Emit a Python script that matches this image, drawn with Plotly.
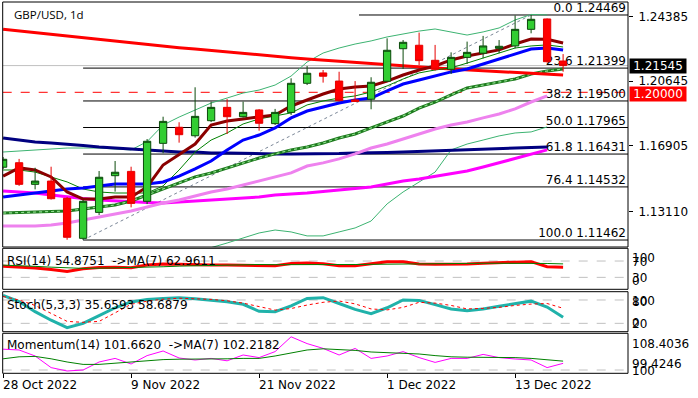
import datetime as dt
import plotly.graph_objects as go

# ---------------- data ----------------
DATES = ["2022-10-28", "2022-10-31", "2022-11-01", "2022-11-02", "2022-11-03", "2022-11-04",
         "2022-11-07", "2022-11-08", "2022-11-09", "2022-11-10", "2022-11-11",
         "2022-11-14", "2022-11-15", "2022-11-16", "2022-11-17", "2022-11-18",
         "2022-11-21", "2022-11-22", "2022-11-23", "2022-11-24", "2022-11-25",
         "2022-11-28", "2022-11-29", "2022-11-30", "2022-12-01", "2022-12-02",
         "2022-12-05", "2022-12-06", "2022-12-07", "2022-12-08", "2022-12-09",
         "2022-12-12", "2022-12-13", "2022-12-14", "2022-12-15", "2022-12-16"]

OPEN = [1.1567, 1.1593, 1.1468, 1.1487, 1.1387, 1.1156, 1.1306, 1.1518, 1.1543, 1.1370,
        1.1705, 1.1798, 1.1749, 1.1836, 1.1913, 1.1859, 1.1898, 1.1819, 1.1884, 1.2052,
        1.2112, 1.2065, 1.1956, 1.1960, 1.2064, 1.2252, 1.2272, 1.2185, 1.2133, 1.2202,
        1.2226, 1.2254, 1.2268, 1.2364, 1.2424, 1.2181]
HIGH = [1.1626, 1.1615, 1.1564, 1.1570, 1.1395, 1.1378, 1.1545, 1.1603, 1.1570, 1.1730,
        1.1859, 1.1827, 1.2029, 1.1946, 1.1961, 1.1946, 1.1903, 1.1904, 1.2081, 1.2152,
        1.2129, 1.2119, 1.2065, 1.2087, 1.2312, 1.2302, 1.2345, 1.2274, 1.2231, 1.2293,
        1.2326, 1.2302, 1.2444, 1.24469, 1.2427, 1.2221]
LOW = [1.1557, 1.1459, 1.1439, 1.1380, 1.1148, 1.11462, 1.1291, 1.1426, 1.1335, 1.1354,
       1.1648, 1.1709, 1.1738, 1.1828, 1.1759, 1.1854, 1.1778, 1.1811, 1.1869, 1.2042,
       1.2056, 1.1947, 1.1944, 1.1902, 1.2060, 1.2135, 1.2158, 1.2125, 1.2106, 1.2164,
       1.2197, 1.2226, 1.2254, 1.2341, 1.2172, 1.2119]
CLOSE = [1.1613, 1.1468, 1.1487, 1.1385, 1.1162, 1.1370, 1.1509, 1.1538, 1.1358, 1.1717,
         1.1832, 1.1755, 1.1861, 1.1913, 1.1859, 1.1884, 1.1821, 1.1884, 1.2052, 1.2110,
         1.2093, 1.1952, 1.1947, 1.2058, 1.2243, 1.2289, 1.2183, 1.2133, 1.2202, 1.2231,
         1.2268, 1.2266, 1.2364, 1.2422, 1.2177, 1.21545]

MA_RED = [1.2364, 1.2354, 1.2344, 1.2335, 1.2325, 1.2315, 1.2305, 1.2296, 1.2286, 1.2276,
          1.2266, 1.2258, 1.2250, 1.2241, 1.2233, 1.2225, 1.2216, 1.2208, 1.2200, 1.2192,
          1.2185, 1.2178, 1.2171, 1.2164, 1.2157, 1.2150, 1.2145, 1.2140, 1.2135, 1.2130,
          1.2125, 1.2120, 1.2115, 1.2110, 1.2105, 1.2100]
MA_MAROON = [1.1516, 1.1563, 1.1551, 1.1511, 1.1424, 1.1383, 1.1383, 1.1395, 1.1395, 1.1453,
             1.1580, 1.1638, 1.1701, 1.1811, 1.1834, 1.1846, 1.1857, 1.1869, 1.1921, 1.1956,
             1.1990, 1.2019, 1.2031, 1.2037, 1.2065, 1.2100, 1.2129, 1.2152, 1.2187, 1.2210,
             1.2227, 1.2245, 1.2279, 1.2308, 1.2306, 1.2285]
MA_BLUE = [1.1395, 1.1407, 1.1418, 1.1430, 1.1441, 1.1447, 1.1459, 1.1470, 1.1470, 1.1470,
           1.1482, 1.1516, 1.1557, 1.1603, 1.1667, 1.1724, 1.1753, 1.1794, 1.1852, 1.1892,
           1.1915, 1.1938, 1.1956, 1.1967, 1.2008, 1.2048, 1.2071, 1.2094, 1.2118, 1.2135,
           1.2164, 1.2193, 1.2222, 1.2250, 1.2256, 1.2245]
MA_GREEN_THIN = [1.1551, 1.1551, 1.1539, 1.1511, 1.1482, 1.1441, 1.1424, 1.1418, 1.1418, 1.1418,
                 1.1459, 1.1551, 1.1655, 1.1724, 1.1765, 1.1817, 1.1846, 1.1863, 1.1881, 1.1927,
                 1.1950, 1.1967, 1.1979, 1.2002, 1.2037, 1.2077, 1.2112, 1.2129, 1.2141, 1.2169,
                 1.2198, 1.2227, 1.2256, 1.2268, 1.2274, 1.2262]
MA_GREEN_DOT = [1.1302, 1.1305, 1.1308, 1.1311, 1.1314, 1.1326, 1.1337, 1.1349, 1.1372, 1.1407,
                1.1441, 1.1476, 1.1511, 1.1534, 1.1563, 1.1592, 1.1620, 1.1644, 1.1667, 1.1684,
                1.1707, 1.1736, 1.1759, 1.1794, 1.1828, 1.1863, 1.1909, 1.1944, 1.1985, 1.2025,
                1.2042, 1.2060, 1.2077, 1.2106, 1.2123, 1.2135]
MA_VIOLET = [1.1227, 1.1227, 1.1227, 1.1233, 1.1245, 1.1262, 1.1279, 1.1297, 1.1314, 1.1337,
             1.1360, 1.1378, 1.1401, 1.1424, 1.1441, 1.1464, 1.1487, 1.1511, 1.1534, 1.1574,
             1.1592, 1.1615, 1.1644, 1.1678, 1.1701, 1.1730, 1.1759, 1.1788, 1.1811, 1.1828,
             1.1852, 1.1875, 1.1904, 1.1944, 1.1979, None]
MA_MAGENTA = [1.1430, 1.1424, 1.1418, 1.1407, 1.1395, 1.1386, 1.1378, 1.1372, 1.1366, 1.1363,
              1.1360, 1.1366, 1.1369, 1.1378, 1.1383, 1.1389, 1.1395, 1.1407, 1.1412, 1.1418,
              1.1427, 1.1435, 1.1444, 1.1453, 1.1470, 1.1487, 1.1499, 1.1513, 1.1528, 1.1545,
              1.1568, 1.1592, 1.1620, 1.1644, 1.1667, None]
MA_NAVY = [1.1736, 1.1724, 1.1713, 1.1707, 1.1701, 1.1693, 1.1684, 1.1678, 1.1672, 1.1667,
           1.1661, 1.1655, 1.1655, 1.1649, 1.1649, 1.1646, 1.1644, 1.1644, 1.1644, 1.1644,
           1.1644, 1.1646, 1.1649, 1.1649, 1.1652, 1.1655, 1.1658, 1.1661, 1.1664, 1.1667,
           1.1669, 1.1672, 1.1675, 1.1678, 1.1684, None]
BB_UPPER = [1.1655, 1.1661, 1.1667, 1.1672, 1.1678, 1.1678, 1.1678, 1.1672, 1.1667, 1.1715,
            1.1811, 1.1857, 1.1898, 1.1938, 1.1967, 1.1996, 1.2013, 1.2042, 1.2094, 1.2175,
            1.2227, 1.2256, 1.2279, 1.2297, 1.2320, 1.2337, 1.2354, 1.2366, 1.2349, 1.2331,
            1.2349, 1.2372, 1.2418, 1.2450, 1.2447, None]
BB_LOWER = [1.1050, 1.1045, 1.1040, 1.1035, 1.1030, 1.1025, 1.1040, 1.1060, 1.1100, 1.1085,
            1.1080, 1.1085, 1.1095, 1.1102, 1.1129, 1.1158, 1.1187, 1.1204, 1.1193, 1.1170,
            1.1170, 1.1193, 1.1216, 1.1256, 1.1355, 1.1424, 1.1482, 1.1539, 1.1667, 1.1701,
            1.1724, 1.1748, 1.1765, 1.1771, 1.1800, None]

RSI = [57.5, 56, 53, 49, 44.5, 51, 54, 55, 53.5, 60,
       63, 62, 62, 60.5, 60, 59, 58.5, 58.6, 64, 65,
       63.5, 58.6, 58.6, 63, 68, 68, 62.5, 62, 62, 63,
       64.5, 65.5, 67.5, 68.5, 56, 54.8751]
RSI_MA = [60, 59, 57, 55, 53, 52, 52.5, 53, 53.5, 54.5,
          56, 57.5, 58.5, 60, 61, 61.5, 61.5, 61, 61.5, 62,
          62, 61.5, 61.5, 62, 63, 63.5, 63.5, 64, 64.5, 64.5,
          64.5, 64.5, 64.5, 65, 64, 62.9611]
STOCH_K = [92, 76, 50, 28, 9, 20, 40, 60, 75, 81,
           84, 86, 83, 79, 75.6, 69, 51, 50, 65, 84,
           86, 71, 56, 45, 60, 80, 79, 68, 57, 52.5,
           57, 64, 71, 77, 62, 35.6593]
STOCH_D = [89, 80, 66, 45, 25, 22.6, 25, 47, 69, 77,
           82, 84.5, 83.5, 81.5, 78, 72, 63, 54, 58, 67,
           74, 77.4, 70, 57, 54.5, 61, 74, 72, 66, 57,
           58.5, 61, 66, 69.5, 71, 58.6879]
MOM = [105.2, 105, 103.5, 100.6, 99.75, 100, 102, 102.9, 101.5, 103.6,
       104.75, 103, 102.5, 102.9, 102.3, 103.75, 103.1, 104.6, 108.3, 106.6,
       105.4, 103.75, 105.4, 102.9, 103.5, 104.6, 103.1, 101.9, 102.9, 102.9,
       103.9, 103.1, 102.75, 102.5, 100.6, 101.662]
MOM_MA = [102.8, 103.3, 103.4, 102.8, 102, 101.4, 101.4, 101.7, 102, 102.4,
          102.6, 102.7, 102.7, 102.75, 102.8, 102.9, 102.9, 103.5, 104.3, 105,
          105.3, 105.1, 104.9, 104.5, 104.3, 104.2, 104, 103.6, 103.3, 103.2,
          103.2, 103.2, 103.1, 102.9, 102.6, 102.2182]

FIB_LOW, FIB_HIGH = 1.11462, 1.24469
FIB_LOW_IDX, FIB_HIGH_IDX = 5, 33
FIB_LEVELS = [0.0, 23.6, 38.2, 50.0, 61.8, 76.4, 100.0]
PRICE_TICKS = [1.24385, 1.20645, 1.16905, 1.13110]
BID = 1.21545
ALERT = 1.20000
TICK_IDX = [0, 8, 16, 24, 32]
RSI_LEVELS = [70, 30]
STOCH_LEVELS = [80, 20]
MOM_LEVEL = 100
SYMBOL = "GBP/USD, 1d"

# ---------------- layout geometry (pixels) ----------------
W, H = 698, 398
XL, XR = 2.7, 628.0
MAIN = (2.0, 247.0)
RSI_P = (248.3, 289.3)
STO_P = (291.7, 331.7)
MOM_P = (333.3, 373.3)
FONT = "DejaVu Sans"


def ix(px):  # pixel -> bar index
    return (px - 3.1) / 16.0


def fx(px):
    return px / W


def fy(px):
    return 1 - px / H


def dom(p):
    return [fy(p[1]), fy(p[0])]


IDX = list(range(len(DATES)))
MAIN_RANGE = [1.11059, 1.25220]

fig = go.Figure()


def add_line(y, color, width, axis="y", dash="solid", x=None):
    fig.add_trace(go.Scatter(x=IDX if x is None else x, y=y, mode="lines", yaxis=axis,
                             line=dict(color=color, width=width, dash=dash),
                             hoverinfo="skip", connectgaps=False))


# fib labels (below candles)
fib_prices = [FIB_HIGH - lv / 100.0 * (FIB_HIGH - FIB_LOW) for lv in FIB_LEVELS]
fig.add_trace(go.Scatter(x=[ix(626)] * len(FIB_LEVELS), y=fib_prices, mode="text",
                         text=[f"{lv:.1f} {p:.5f}" for lv, p in zip(FIB_LEVELS, fib_prices)],
                         textposition="top left", textfont=dict(family=FONT, size=12, color="black"),
                         hoverinfo="skip"))

# main panel lines
add_line(BB_UPPER, "#3cb371", 1)
add_line(BB_LOWER, "#3cb371", 1)
add_line([FIB_LOW, FIB_HIGH], "#7a8696", 1, dash="dot", x=[FIB_LOW_IDX, FIB_HIGH_IDX])
add_line(MA_NAVY, "#000080", 3)
add_line(MA_MAGENTA, "#ff00ff", 3)
add_line(MA_VIOLET, "#ee82ee", 3)
add_line(MA_GREEN_DOT, "#1e7b1e", 3)
add_line(MA_GREEN_DOT, "#8fe08f", 1.2, dash="dot")
add_line(MA_RED, "#ff0000", 3)
add_line(MA_GREEN_THIN, "#008000", 1)
add_line(MA_BLUE, "#0000ff", 3)
add_line(MA_MAROON, "#8b0000", 3)

# candles on an overlaying axis so they are drawn above the lines
fig.add_trace(go.Candlestick(x=IDX, open=OPEN, high=HIGH, low=LOW, close=CLOSE, yaxis="y5",
                             increasing=dict(line=dict(color="#0c4a0c", width=1), fillcolor="#32cd32"),
                             decreasing=dict(line=dict(color="#e60000", width=1), fillcolor="#ff0000"),
                             whiskerwidth=0, hoverinfo="skip"))

# RSI
add_line(RSI, "#ff0000", 3, axis="y2")
add_line(RSI_MA, "#008000", 1, axis="y2")
# Stochastic
add_line(STOCH_K, "#20b2aa", 3, axis="y3")
add_line(STOCH_D, "#ff0000", 1, axis="y3", dash="dot")
# Momentum
add_line(MOM, "#ff00ff", 1, axis="y4")
add_line(MOM_MA, "#008000", 1, axis="y4")

shapes = []
x0i, x1i = ix(XL), ix(XR)
# fib horizontal lines
for lv, p in zip(FIB_LEVELS, fib_prices):
    start = ix(359) if lv == 0.0 else FIB_LOW_IDX
    shapes.append(dict(type="line", xref="x", yref="y", x0=start, x1=x1i, y0=p, y1=p,
                       line=dict(color="black", width=1), layer="below"))
shapes.append(dict(type="line", xref="x", yref="y", x0=x0i, x1=x1i, y0=BID, y1=BID,
                   line=dict(color="#c0c0c0", width=1), layer="below"))
shapes.append(dict(type="line", xref="x", yref="y", x0=x0i, x1=x1i, y0=ALERT, y1=ALERT,
                   line=dict(color="#ff0000", width=1, dash="dash"), layer="below"))
for lv in RSI_LEVELS:
    shapes.append(dict(type="line", xref="x", yref="y2", x0=x0i, x1=x1i, y0=lv, y1=lv,
                       line=dict(color="#c0c0c0", width=1, dash="dash"), layer="below"))
for lv in STOCH_LEVELS:
    shapes.append(dict(type="line", xref="x", yref="y3", x0=x0i, x1=x1i, y0=lv, y1=lv,
                       line=dict(color="#c0c0c0", width=1, dash="dash"), layer="below"))
shapes.append(dict(type="line", xref="x", yref="y4", x0=x0i, x1=x1i, y0=MOM_LEVEL, y1=MOM_LEVEL,
                   line=dict(color="#c0c0c0", width=1, dash="dash"), layer="below"))
# panel borders
for p in (MAIN, RSI_P, STO_P, MOM_P):
    shapes.append(dict(type="rect", xref="paper", yref="paper", x0=fx(XL), x1=fx(XR),
                       y0=fy(p[1]), y1=fy(p[0]), line=dict(color="black", width=1),
                       fillcolor="rgba(0,0,0,0)", layer="above"))

ann = []


def text(s, xpx, ypx, anchor="left", size=12, family=FONT, color="black"):
    ann.append(dict(text=s, x=fx(xpx), y=fy(ypx), xref="paper", yref="paper", xanchor=anchor,
                    yanchor="middle", showarrow=False, font=dict(family=family, size=size, color=color)))


text(SYMBOL, 12, 15, family="Open Sans", size=11.5)
text(f"RSI(14) {RSI[-1]:.4f}  ->MA(7) {RSI_MA[-1]:.4f}", 5, 261)
text(f"Stoch(5,3,3) {STOCH_K[-1]:.4f} {STOCH_D[-1]:.4f}", 5, 305)
text(f"Momentum(14) {MOM[-1]:.4f}  ->MA(7) {MOM_MA[-1]:.4f}", 5, 345)
# sub-panel scale labels
for s, ypx in [("100", 257.5), ("70", 261.5), ("30", 277.5), ("0", 280.5),
               ("100", 300.5), ("80", 301.5), ("0", 322.5), ("20", 324),
               ("108.4036", 344.3), ("99.4246", 364), ("100", 370.5)]:
    text(s, 630, ypx)
# date labels
for i in TICK_IDX:
    d = dt.date.fromisoformat(DATES[i])
    ann.append(dict(text=f"{d.day} {d.strftime('%b %Y')}", x=i, y=fy(385), xref="x", yref="paper",
                    xanchor="left", yanchor="middle", xshift=-2, showarrow=False,
                    font=dict(family=FONT, size=12, color="black")))
# price boxes
for val, col, ypx in [(BID, "black", 66.3), (ALERT, "#ff0000", 93.8)]:
    ann.append(dict(text=f"{val:.5f}", x=fx(629), y=fy(ypx), xref="paper", yref="paper",
                    xanchor="left", yanchor="middle", showarrow=False, bgcolor=col,
                    width=56, height=14, borderpad=0, align="center",
                    font=dict(family=FONT, size=12, color="white")))

noax = dict(showgrid=False, zeroline=False, showline=False, showticklabels=False, ticks="")
fig.update_layout(
    width=W, height=H, margin=dict(l=0, r=0, t=0, b=0),
    paper_bgcolor="white", plot_bgcolor="white", showlegend=False, boxgap=0.35,
    font=dict(family=FONT, size=12, color="black"),
    xaxis=dict(domain=[fx(XL), fx(XR)], range=[x0i, x1i], anchor="y4", showgrid=False,
               zeroline=False, showline=False, ticks="outside", ticklen=4, tickcolor="black",
               tickvals=TICK_IDX, showticklabels=False, rangeslider=dict(visible=False)),
    yaxis=dict(domain=dom(MAIN), range=MAIN_RANGE, side="right", anchor="x", showgrid=False,
               zeroline=False, showline=False, tickvals=PRICE_TICKS,
               ticktext=[f"{v:.5f}" for v in PRICE_TICKS], ticks="outside", ticklen=4,
               ticklabelstandoff=3,
               tickcolor="black", tickfont=dict(family=FONT, size=12, color="black")),
    yaxis5=dict(overlaying="y", range=MAIN_RANGE, anchor="x", visible=False),
    yaxis2=dict(domain=dom(RSI_P), range=[0.7, 101.2], anchor="x", **noax),
    yaxis3=dict(domain=dom(STO_P), range=[-1.5, 101.3], anchor="x", **noax),
    yaxis4=dict(domain=dom(MOM_P), range=[99.175, 109.175], anchor="x", **noax),
    shapes=shapes, annotations=ann,
)

fig.write_html("out.html", config={"displayModeBar": False},
               post_script="document.body.style.margin='0';document.body.style.overflow='hidden';")
